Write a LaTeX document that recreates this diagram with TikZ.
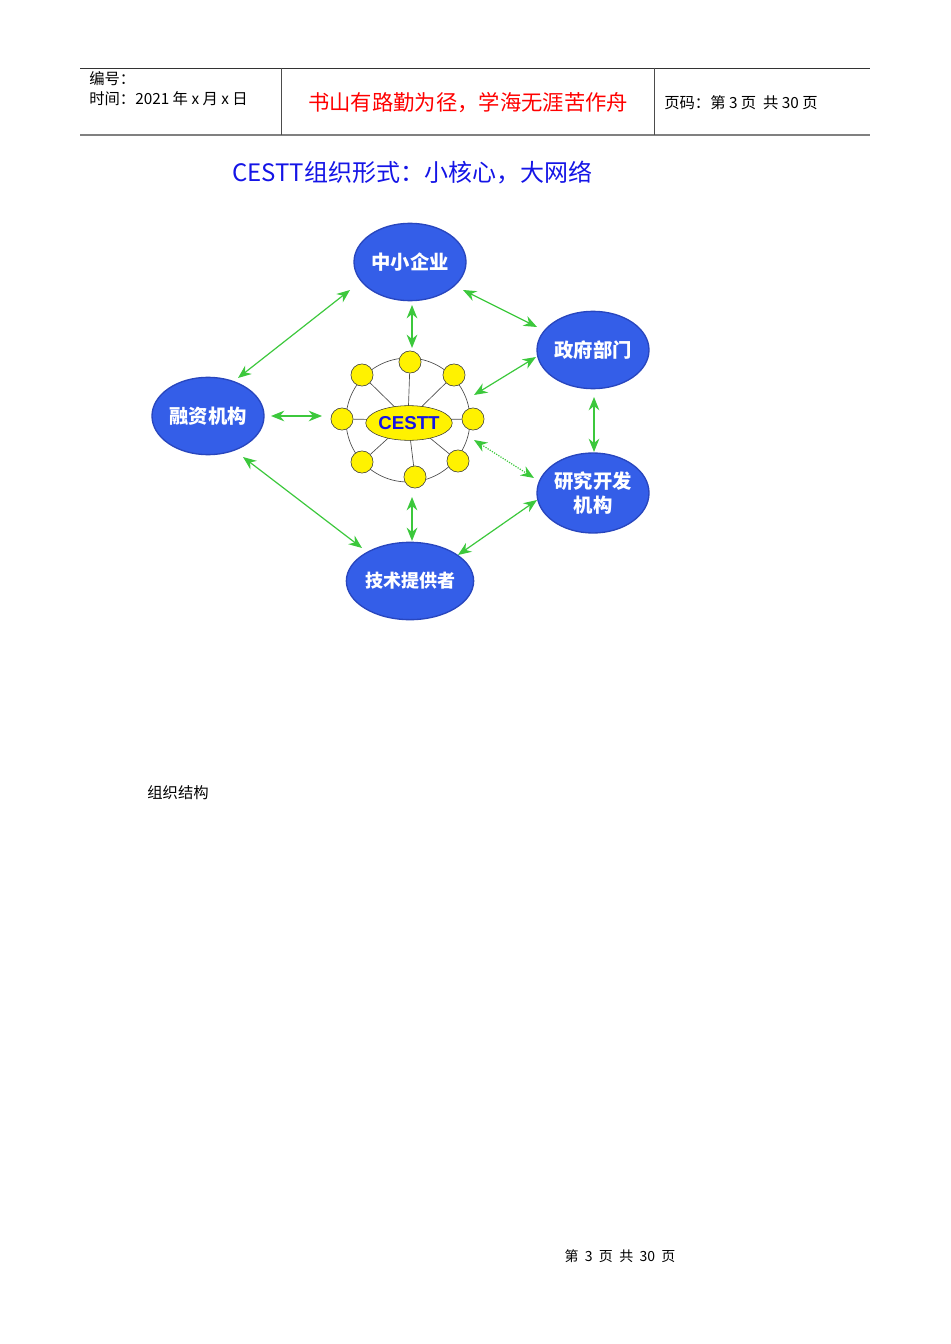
\documentclass[tikz,border=0pt]{standalone}
\usepackage{fontspec}
\setmainfont{Liberation Sans}
\newfontfamily\cjk{Noto Sans CJK SC}
\usetikzlibrary{arrows.meta,shapes.geometric}
\definecolor{ballblue}{RGB}{52,94,232}
\definecolor{edgeblue}{RGB}{40,70,190}
\definecolor{arrgreen}{RGB}{60,200,60}
\definecolor{titleblue}{RGB}{20,20,230}
\begin{document}
\begin{tikzpicture}[x=0.75pt,y=-0.75pt,
  big/.style={ellipse,draw=edgeblue,line width=1pt,fill=ballblue,minimum width=84pt,minimum height=58pt,text=white,font=\cjk\bfseries\fontsize{14.5}{18}\selectfont,align=center,inner sep=0pt},
  dot/.style={circle,draw=black!70,fill=yellow,minimum size=16.5pt,inner sep=0pt},
  link/.style={draw=black!70,line width=0.5pt},
  arr/.style={draw=arrgreen,line width=0.9pt,{Stealth[length=10pt,width=8pt]}-{Stealth[length=10pt,width=8pt]}}]
\useasboundingbox (0,0) rectangle (950,1344);
% header
\draw[black!80,line width=0.6pt] (80,68) -- (870,68);
\draw[black!50,line width=1.2pt] (80,135) -- (870,135);
\draw[black!70,line width=0.6pt] (281,68) -- (281,135);
\draw[black!70,line width=0.6pt] (654,68) -- (654,135);
\node[anchor=west,font=\cjk\fontsize{11.5}{13}\selectfont,inner sep=0pt] (h1) at (89,79) {编号：};
\node[anchor=west,font=\cjk\fontsize{11.5}{13}\selectfont,inner sep=0pt] (h2) at (89,99) {时间：2021 年 x 月 x 日};
\node[font=\cjk\fontsize{16}{18}\selectfont,text=red,inner sep=0pt] (h3) at (468,103) {书山有路勤为径，学海无涯苦作舟};
\node[anchor=west,font=\cjk\fontsize{11.5}{13}\selectfont,inner sep=0pt] (h4) at (664,103) {页码：第 3 页 \ 共 30 页};
\node[font=\cjk\fontsize{18}{20}\selectfont,text=titleblue,inner sep=0pt] (title) at (412,173) {CESTT组织形式：小核心，大网络};
% big nodes
\node[big] (sme) at (410,262) {中小企业};
\node[big] (gov) at (593,350) {政府部门};
\node[big] (fin) at (208,416) {融资机构};
\node[big,minimum height=60pt] (rd) at (593,493) {研究开发\\机构};
\node[big,font=\cjk\bfseries\fontsize{13.5}{16}\selectfont] (tech) at (410,581) {技术提供者};
% core
\coordinate (cc) at (408,420);
\draw[link] (cc) circle[radius=62*0.75pt];
\foreach \n/\x/\y in {d1/410/362,d2/362/375,d3/454/375,d4/342/419,d5/473/419,d6/362/462,d7/458/461,d8/415/477}{
  \node[dot] (\n) at (\x,\y) {};
  \draw[link] (cc) -- (\n);
}
\foreach \n/\x/\y in {d1/410/362,d2/362/375,d3/454/375,d4/342/419,d5/473/419,d6/362/462,d7/458/461,d8/415/477}{
  \node[dot] at (\x,\y) {};
}
\node[ellipse,draw=black!80,fill=yellow,minimum width=50pt,minimum height=26pt,inner sep=0pt,text=titleblue,font=\bfseries\fontsize{14}{16}\selectfont] (core) at (409,423) {CESTT};
% arrows
\coordinate (a1) at (350,290); \coordinate (b1) at (238,378);
\coordinate (a2) at (463,290); \coordinate (b2) at (537,327);
\coordinate (a3) at (412,305); \coordinate (b3) at (412,348);
\coordinate (a4) at (536,357); \coordinate (b4) at (474,395);
\coordinate (a5) at (271,416); \coordinate (b5) at (322,416);
\coordinate (a6) at (594,397); \coordinate (b6) at (594,452);
\coordinate (a7) at (474,440); \coordinate (b7) at (534,478);
\coordinate (a8) at (243,457); \coordinate (b8) at (362,548);
\coordinate (a9) at (412,497); \coordinate (b9) at (412,541);
\coordinate (a10) at (537,500); \coordinate (b10) at (458,555);
\foreach \i in {1,2,4,5,6,8,10}{\draw[arr] (a\i) -- (b\i);}
\draw[arr,line width=1.4pt] (a3) -- (b3);
\draw[arr,line width=1.4pt] (a9) -- (b9);
\draw[arr,densely dotted] (a7) -- (b7);
% body text
\node[font=\cjk\fontsize{11.5}{13}\selectfont,inner sep=0pt] (body) at (178,793) {组织结构};
\node[font=\cjk\fontsize{10.5}{12}\selectfont,inner sep=0pt] (foot) at (620,1256) {第 \ 3 \ 页 \ 共 \ 30 \ 页};
\end{tikzpicture}
\end{document}
